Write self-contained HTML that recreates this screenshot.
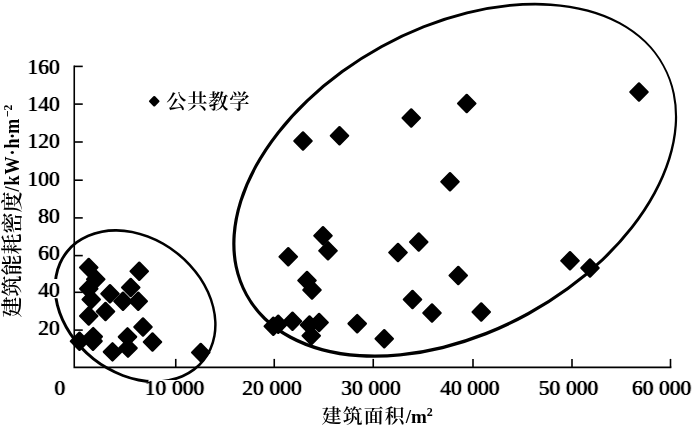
<!DOCTYPE html>
<html lang="zh"><head><meta charset="utf-8"><title>建筑能耗密度</title>
<style>
html,body{margin:0;padding:0;background:#fff;}
body{width:700px;height:429px;overflow:hidden;}
svg{display:block;}
text{font-family:"Liberation Serif","Noto Serif CJK SC",serif;fill:#000;}
.num{font-size:21.5px;font-weight:normal;word-spacing:0.3px;}
.cjk{font-family:"Noto Serif CJK SC","Liberation Serif",serif;font-size:21px;font-weight:600;}
.lat{font-family:"Liberation Serif",serif;font-weight:bold;font-size:19px;}
</style></head><body>
<svg width="700" height="429" viewBox="0 0 700 429">
<defs><filter id="emb" filterUnits="userSpaceOnUse" x="0" y="0" width="700" height="429" color-interpolation-filters="sRGB"><feConvolveMatrix order="3 1" kernelMatrix="0.3 1 0.3" divisor="1" preserveAlpha="false" edgeMode="none"/></filter></defs>
<rect width="700" height="429" fill="#fff"/>

<g fill="#000" stroke="none">
<path fill-rule="evenodd" d="M204.57 361.06A88.55 68.70 38.4 1 0 65.77 251.06A88.55 68.70 38.4 1 0 204.57 361.06ZM202.65 359.29A85.85 66.00 38.4 1 0 68.09 252.63A85.85 66.00 38.4 1 0 202.65 359.29Z"/>
<path fill-rule="evenodd" d="M664.18 65.19A239.05 153.20 -28.8 1 0 245.22 295.51A239.05 153.20 -28.8 1 0 664.18 65.19ZM662.58 65.94A236.65 150.80 -28.8 1 0 247.82 293.96A236.65 150.80 -28.8 1 0 662.58 65.94Z"/>
</g>
<rect x="148.5" y="380" width="56" height="18" fill="#fff"/><rect x="36" y="279" width="24" height="19.2" fill="#fff"/>
<g stroke="#000" stroke-width="1.6" fill="none">
<path d="M74.25 65.5V367.4H671.4"/>
<path d="M74.25 330.10H82.75"/>
<path d="M74.25 292.30H82.75"/>
<path d="M74.25 255.60H82.75"/>
<path d="M74.25 217.90H82.75"/>
<path d="M74.25 180.20H82.75"/>
<path d="M74.25 142.00H82.75"/>
<path d="M74.25 104.10H82.75"/>
<path d="M74.25 66.40H82.75"/>
<path d="M175.75 367.4V358.9"/>
<path d="M274.25 367.4V358.9"/>
<path d="M373.25 367.4V358.9"/>
<path d="M473.00 367.4V358.9"/>
<path d="M572.00 367.4V358.9"/>
<path d="M670.50 367.4V358.9"/>
</g>
<g fill="#000" stroke="#000" stroke-width="2.4" stroke-linejoin="round">
<path d="M88.75 258.90L97.35 267.50L88.75 276.10L80.15 267.50Z"/>
<path d="M95.75 270.65L104.35 279.25L95.75 287.85L87.15 279.25Z"/>
<path d="M88.75 280.15L97.35 288.75L88.75 297.35L80.15 288.75Z"/>
<path d="M91.25 290.90L99.85 299.50L91.25 308.10L82.65 299.50Z"/>
<path d="M88.75 307.40L97.35 316.00L88.75 324.60L80.15 316.00Z"/>
<path d="M105.50 302.90L114.10 311.50L105.50 320.10L96.90 311.50Z"/>
<path d="M110.00 285.15L118.60 293.75L110.00 302.35L101.40 293.75Z"/>
<path d="M123.00 292.65L131.60 301.25L123.00 309.85L114.40 301.25Z"/>
<path d="M130.75 278.90L139.35 287.50L130.75 296.10L122.15 287.50Z"/>
<path d="M139.25 262.65L147.85 271.25L139.25 279.85L130.65 271.25Z"/>
<path d="M138.25 292.65L146.85 301.25L138.25 309.85L129.65 301.25Z"/>
<path d="M143.00 318.40L151.60 327.00L143.00 335.60L134.40 327.00Z"/>
<path d="M79.50 332.65L88.10 341.25L79.50 349.85L70.90 341.25Z"/>
<path d="M93.20 328.00L101.80 336.60L93.20 345.20L84.60 336.60Z"/>
<path d="M93.00 332.60L101.60 341.20L93.00 349.80L84.40 341.20Z"/>
<path d="M112.50 343.30L121.10 351.90L112.50 360.50L103.90 351.90Z"/>
<path d="M127.50 328.30L136.10 336.90L127.50 345.50L118.90 336.90Z"/>
<path d="M128.00 339.50L136.60 348.10L128.00 356.70L119.40 348.10Z"/>
<path d="M152.50 333.40L161.10 342.00L152.50 350.60L143.90 342.00Z"/>
<path d="M200.75 343.90L209.35 352.50L200.75 361.10L192.15 352.50Z"/>
<path d="M323.00 227.15L331.60 235.75L323.00 244.35L314.40 235.75Z"/>
<path d="M328.00 242.15L336.60 250.75L328.00 259.35L319.40 250.75Z"/>
<path d="M288.25 248.15L296.85 256.75L288.25 265.35L279.65 256.75Z"/>
<path d="M307.00 271.90L315.60 280.50L307.00 289.10L298.40 280.50Z"/>
<path d="M312.00 281.40L320.60 290.00L312.00 298.60L303.40 290.00Z"/>
<path d="M273.30 317.65L281.90 326.25L273.30 334.85L264.70 326.25Z"/>
<path d="M278.25 315.65L286.85 324.25L278.25 332.85L269.65 324.25Z"/>
<path d="M292.50 312.65L301.10 321.25L292.50 329.85L283.90 321.25Z"/>
<path d="M309.50 316.40L318.10 325.00L309.50 333.60L300.90 325.00Z"/>
<path d="M319.10 313.90L327.70 322.50L319.10 331.10L310.50 322.50Z"/>
<path d="M311.25 327.15L319.85 335.75L311.25 344.35L302.65 335.75Z"/>
<path d="M357.20 315.10L365.80 323.70L357.20 332.30L348.60 323.70Z"/>
<path d="M384.25 330.15L392.85 338.75L384.25 347.35L375.65 338.75Z"/>
<path d="M303.00 132.40L311.60 141.00L303.00 149.60L294.40 141.00Z"/>
<path d="M339.50 127.15L348.10 135.75L339.50 144.35L330.90 135.75Z"/>
<path d="M411.25 109.40L419.85 118.00L411.25 126.60L402.65 118.00Z"/>
<path d="M466.75 94.90L475.35 103.50L466.75 112.10L458.15 103.50Z"/>
<path d="M450.00 173.15L458.60 181.75L450.00 190.35L441.40 181.75Z"/>
<path d="M418.75 233.40L427.35 242.00L418.75 250.60L410.15 242.00Z"/>
<path d="M398.00 243.90L406.60 252.50L398.00 261.10L389.40 252.50Z"/>
<path d="M458.25 266.90L466.85 275.50L458.25 284.10L449.65 275.50Z"/>
<path d="M412.50 290.90L421.10 299.50L412.50 308.10L403.90 299.50Z"/>
<path d="M432.00 304.40L440.60 313.00L432.00 321.60L423.40 313.00Z"/>
<path d="M481.25 303.40L489.85 312.00L481.25 320.60L472.65 312.00Z"/>
<path d="M639.00 83.40L647.60 92.00L639.00 100.60L630.40 92.00Z"/>
<path d="M570.00 252.15L578.60 260.75L570.00 269.35L561.40 260.75Z"/>
<path d="M590.00 259.40L598.60 268.00L590.00 276.60L581.40 268.00Z"/>
<path d="M154.25 97.15L158.35 101.25L154.25 105.35L150.15 101.25Z"/>
</g>
<g filter="url(#emb)">
<text class="num" x="59.7" y="334.50" text-anchor="end">20</text>
<text class="num" x="59.7" y="297.25" text-anchor="end">40</text>
<text class="num" x="59.7" y="260.00" text-anchor="end">60</text>
<text class="num" x="59.7" y="222.75" text-anchor="end">80</text>
<text class="num" x="59.7" y="185.50" text-anchor="end">100</text>
<text class="num" x="59.7" y="148.25" text-anchor="end">120</text>
<text class="num" x="59.7" y="111.00" text-anchor="end">140</text>
<text class="num" x="59.7" y="73.75" text-anchor="end">160</text>
<text class="num" x="59.9" y="395" text-anchor="middle">0</text>
<text class="num" x="174.5" y="395" text-anchor="middle">10 000</text>
<text class="num" x="272.0" y="395" text-anchor="middle">20 000</text>
<text class="num" x="371.0" y="395" text-anchor="middle">30 000</text>
<text class="num" x="469.9" y="395" text-anchor="middle">40 000</text>
<text class="num" x="568.5" y="395" text-anchor="middle">50 000</text>
<text class="num" x="661.6" y="395" text-anchor="middle">60 000</text>
</g>
<text class="cjk" style="font-size:20.2px;letter-spacing:0.8px" x="166.3" y="108.6">公共教学</text>
<text x="321.8" y="422.5"><tspan class="cjk" style="font-size:19.8px;letter-spacing:1.2px">建筑面积</tspan><tspan class="lat">/m</tspan><tspan class="lat" style="font-size:12px" dy="-7">2</tspan></text>
<text class="cjk" style="font-size:21px" transform="translate(18.8 317.5) rotate(-90)">建筑能耗密度</text>
<text transform="translate(19 191.5) rotate(-90) scale(0.9 1)"><tspan class="lat" style="font-size:20px;letter-spacing:1.1px">/kW·h<tspan dx="-1.7">·</tspan><tspan dx="-1.7">m</tspan></tspan><tspan class="lat" style="font-size:13px;letter-spacing:0.3px" dx="0.3" dy="-7">−2</tspan></text>
</svg></body></html>
